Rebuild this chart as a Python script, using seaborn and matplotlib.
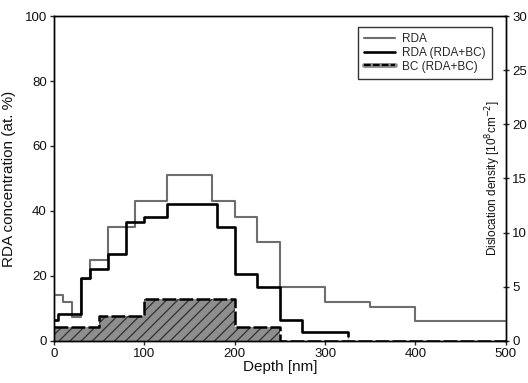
import numpy as np
import pandas as pd
import seaborn as sns
import matplotlib
matplotlib.use('Agg')
import matplotlib.pyplot as plt
from matplotlib.lines import Line2D

# RDA alone (left axis, at. %)
rda_depth = [0, 10, 20, 30, 40, 60, 90, 125, 175, 200, 225, 250, 300, 350, 400, 500]
rda_conc = [14, 12, 7.5, 19, 25, 35, 43, 51, 43, 38, 30.5, 16.5, 12, 10.5, 6]

# RDA with BC (left axis, at. %)
rdabc_depth = [0, 5, 30, 40, 60, 80, 100, 125, 180, 200, 225, 250, 275, 325]
rdabc_conc = [6.5, 8.3, 19.3, 22.2, 26.8, 36.5, 38, 42, 35, 20.6, 16.5, 6.5, 2.8]

# BC dislocation density (right axis, 10^8 cm^-2)
bc_depth = [0, 50, 100, 200, 250, 500]
bc_dens = [1.3, 2.3, 3.9, 1.3, 0]


def steps(edges, vals, close=False):
    x = list(edges)
    y = list(vals) + [vals[-1]]
    if close:
        x = x + [x[-1]]
        y = y + [0]
    return pd.DataFrame({'depth': x, 'val': y})


sns.set_theme(style='ticks')
plt.rcParams['font.family'] = ['Liberation Sans', 'DejaVu Sans']
plt.rcParams['axes.linewidth'] = 1.0
plt.rcParams['hatch.linewidth'] = 0.9
plt.rcParams['hatch.color'] = '#303030'

fig = plt.figure(figsize=(5.28, 3.83), dpi=100)
ax = fig.add_axes([0.102, 0.110, 0.856, 0.848])
ax2 = ax.twinx()

dash = (0, (5.5, 1.3))

# BC hatched area on right axis
bc = steps(bc_depth, bc_dens)
ax2.fill_between(bc['depth'], 0, bc['val'], step='post', facecolor='#8e8e8e',
                 edgecolor='#303030', hatch='///', linewidth=0, zorder=1)
sns.lineplot(data=bc, x='depth', y='val', ax=ax2, drawstyle='steps-post',
             color='black', linewidth=1.8, linestyle=dash, zorder=2)

# RDA lines on left axis
sns.lineplot(data=steps(rda_depth, rda_conc), x='depth', y='val', ax=ax,
             drawstyle='steps-post', color='#6e6e6e', linewidth=1.5)
sns.lineplot(data=steps(rdabc_depth, rdabc_conc, close=True), x='depth', y='val', ax=ax,
             drawstyle='steps-post', color='black', linewidth=1.9)

ax.set_zorder(ax2.get_zorder() + 1)
ax.patch.set_visible(False)

ax.set_xlim(0, 500)
ax.set_ylim(0, 100)
ax2.set_ylim(0, 30)
ax.set_xticks(range(0, 501, 100))
ax.set_yticks(range(0, 101, 20))
ax2.set_yticks(range(0, 31, 5))
ax.tick_params(direction='out', length=3, width=1, labelsize=9.5, pad=2, labelcolor='#111')
ax2.tick_params(direction='inout', length=5, width=1, labelsize=9.5, pad=2, labelcolor='#111')
for a in (ax, ax2):
    for s in a.spines.values():
        s.set_visible(True)
        s.set_color('black')

ax.set_xlabel('Depth [nm]', fontsize=11, labelpad=0, color='#111')
ax.set_ylabel('RDA concentration (at. %)', fontsize=11, labelpad=6, color='#111')
ax2.set_ylabel('Dislocation density [10$^8$cm$^{-2}$]', fontsize=8.5, color='#111')
ax2.yaxis.set_label_coords(0.971, 0.5)
ax2.yaxis.label.set_verticalalignment('center')
ax2.yaxis.label.set_horizontalalignment('center')

gray_bar = Line2D([], [], color='#8e8e8e', lw=3.5)
dash_line = Line2D([], [], color='black', lw=1.6, linestyle=(0, (3, 1)))
handles = [Line2D([], [], color='#6e6e6e', lw=1.5),
           Line2D([], [], color='black', lw=1.9),
           (gray_bar, dash_line)]
leg = ax.legend(handles, ['RDA', 'RDA (RDA+BC)', 'BC (RDA+BC)'], loc='upper right',
                bbox_to_anchor=(0.975, 0.975), fontsize=8.5, frameon=True, fancybox=False,
                handlelength=2.6, borderpad=0.55, labelspacing=0.15, handletextpad=0.6,
                borderaxespad=0.2)
leg.get_frame().set_edgecolor('black')
leg.get_frame().set_linewidth(1.0)

fig.savefig('out.png', dpi=100)
